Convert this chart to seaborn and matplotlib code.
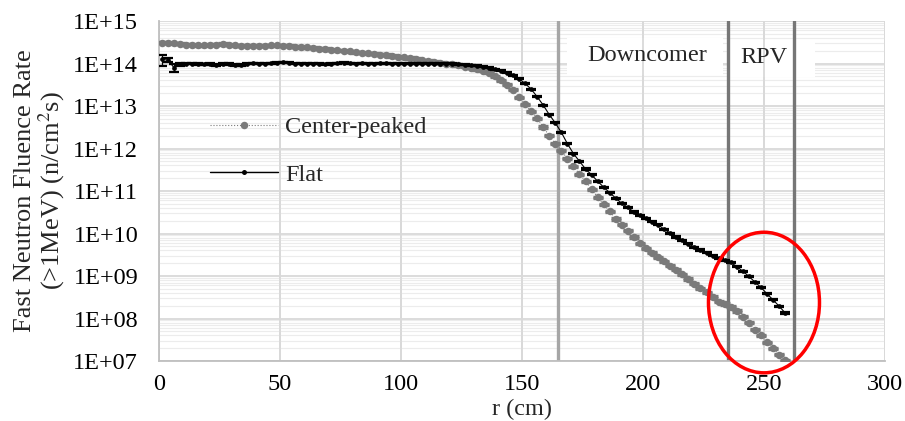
import numpy as np
import pandas as pd
import matplotlib
matplotlib.use("Agg")
import matplotlib.pyplot as plt
import seaborn as sns
from matplotlib.lines import Line2D
from matplotlib.patches import Ellipse, Rectangle
from matplotlib.ticker import FixedLocator, FuncFormatter, LogLocator, NullFormatter

# ---------------- data ----------------
r_cm = [1.25, 3.75, 6.25, 8.75, 11.25, 13.75, 16.25, 18.75, 21.25, 23.75,
        26.25, 28.75, 31.25, 33.75, 36.25, 38.75, 41.25, 43.75, 46.25, 48.75,
        51.25, 53.75, 56.25, 58.75, 61.25, 63.75, 66.25, 68.75, 71.25, 73.75,
        76.25, 78.75, 81.25, 83.75, 86.25, 88.75, 91.25, 93.75, 96.25, 98.75,
        101.25, 103.75, 106.25, 108.75, 111.25, 113.75, 116.25, 118.75, 121.25, 123.75,
        126.25, 128.75, 131.25, 133.75, 136.25, 138.75, 141.25, 143.75, 146.25, 148.75,
        151.25, 153.75, 156.25, 158.75, 161.25, 163.75, 166.25, 168.75, 171.25, 173.75,
        176.25, 178.75, 181.25, 183.75, 186.25, 188.75, 191.25, 193.75, 196.25, 198.75,
        201.25, 203.75, 206.25, 208.75, 211.25, 213.75, 216.25, 218.75, 221.25, 223.75,
        226.25, 228.75, 231.25, 233.75, 236.25, 238.75, 241.25, 243.75, 246.25, 248.75,
        251.25, 253.75, 256.25, 258.75]

center_peaked = [3.1e14, 3.1e14, 3.0e14, 2.9e14, 2.8e14, 2.75e14, 2.7e14, 2.7e14, 2.75e14, 2.8e14,
                 2.9e14, 2.8e14, 2.7e14, 2.65e14, 2.65e14, 2.65e14, 2.6e14, 2.65e14, 2.7e14, 2.7e14,
                 2.65e14, 2.6e14, 2.5e14, 2.45e14, 2.4e14, 2.35e14, 2.25e14, 2.2e14, 2.1e14, 2.05e14,
                 2.0e14, 1.95e14, 1.85e14, 1.8e14, 1.75e14, 1.7e14, 1.6e14, 1.6e14, 1.5e14, 1.45e14,
                 1.4e14, 1.35e14, 1.3e14, 1.2e14, 1.15e14, 1.1e14, 1.05e14, 1.0e14, 9.5e13, 9.1e13,
                 8.5e13, 7.9e13, 7.4e13, 6.8e13, 6.0e13, 5.0e13, 4.0e13, 3.2e13, 2.4e13, 1.6e13,
                 1.1e13, 7.6e12, 5.2e12, 3.2e12, 2.0e12, 1.3e12, 8.9e11, 5.8e11, 3.8e11, 2.5e11,
                 1.7e11, 1.1e11, 7.2e10, 4.9e10, 3.3e10, 2.2e10, 1.6e10, 1.15e10, 8.3e9, 5.9e9,
                 4.5e9, 3.5e9, 2.75e9, 2.2e9, 1.75e9, 1.4e9, 1.1e9, 8.5e8, 6.6e8, 5.2e8,
                 4.1e8, 3.2e8, 2.5e8, 2.2e8, 1.9e8, 1.5e8, 1.1e8, 7.9e7, 5.5e7, 4.0e7,
                 2.75e7, 2.0e7, 1.4e7, 1.05e7]

flat = [1.25e14, 1.2e14, 7.9e13, 9.5e13, 1.0e14, 1.0e14, 9.8e13, 9.5e13, 9.8e13, 9.3e13,
        9.8e13, 1.0e14, 9.3e13, 9.1e13, 1.0e14, 1.02e14, 1.0e14, 1.0e14, 1.02e14, 1.05e14,
        1.07e14, 1.05e14, 1.0e14, 9.8e13, 9.8e13, 1.0e14, 9.8e13, 9.5e13, 9.8e13, 1.02e14,
        1.05e14, 1.02e14, 1.0e14, 1.02e14, 1.0e14, 1.0e14, 1.02e14, 1.02e14, 1.0e14, 1.0e14,
        1.0e14, 1.0e14, 1.0e14, 1.0e14, 1.0e14, 1.0e14, 1.0e14, 9.8e13, 9.8e13, 9.5e13,
        9.3e13, 9.1e13, 8.9e13, 8.5e13, 7.9e13, 7.4e13, 6.8e13, 6.0e13, 5.25e13, 4.4e13,
        3.4e13, 2.5e13, 1.66e13, 1.05e13, 6.3e12, 4.0e12, 2.4e12, 1.3e12, 7.6e11, 5.0e11,
        3.3e11, 2.4e11, 1.7e11, 1.23e11, 9.1e10, 6.8e10, 5.1e10, 4.1e10, 3.2e10, 2.7e10,
        2.3e10, 1.9e10, 1.6e10, 1.26e10, 1.02e10, 8.3e9, 6.9e9, 5.75e9, 4.8e9, 4.1e9,
        3.55e9, 3.0e9, 2.6e9, 2.35e9, 2.1e9, 1.66e9, 1.3e9, 9.8e8, 7.2e8, 5.4e8,
        3.8e8, 2.75e8, 1.95e8, 1.35e8]

# relative statistical uncertainty (1 sigma)
flat_rel_err = [0.30, 0.10, 0.22, 0.06, 0.05, 0.05, 0.05, 0.05, 0.05, 0.06,
                0.05, 0.05, 0.06, 0.06] + [0.03] * 90
center_rel_err = [0.03] * 104

region_bounds = [165, 235, 262.5]
region_labels = ["Downcomer", "RPV"]
series_names = ["Center-peaked", "Flat"]
y_ticks = [1e7, 1e8, 1e9, 1e10, 1e11, 1e12, 1e13, 1e14, 1e15]
x_ticks = [0, 50, 100, 150, 200, 250, 300]

df = pd.DataFrame({"r": r_cm, "center": center_peaked, "flat": flat})

# ---------------- styling ----------------
sns.set_theme(style="white")
plt.rcParams["font.family"] = ["Liberation Serif", "DejaVu Serif"]
plt.rcParams["mathtext.fontset"] = "stix"
FS = 17.5
GRAY = "#7a7a7a"
GRID = "#d9d9d9"

fig = plt.figure(figsize=(9.05, 4.21), dpi=100)
ax = fig.add_axes([0.1757, 0.1425, 0.8022, 0.8076])

ax.set_yscale("log")
ax.set_xlim(0, 300)
ax.set_ylim(1e7, 1e15)

# grid
ax.yaxis.set_major_locator(FixedLocator(y_ticks))
ax.yaxis.set_minor_locator(LogLocator(base=10, subs=np.arange(2, 10), numticks=20))
ax.yaxis.set_minor_formatter(NullFormatter())
ax.xaxis.set_major_locator(FixedLocator(x_ticks))
ax.grid(True, which="major", color=GRID, lw=1.3, zorder=0)
ax.grid(True, which="minor", axis="y", color="#ececec", lw=0.8, zorder=0)
ax.set_axisbelow(True)
for s in ["top", "right"]:
    ax.spines[s].set_visible(False)
for s in ["left", "bottom"]:
    ax.spines[s].set_color("#bfbfbf")
    ax.spines[s].set_linewidth(1.3)

# white text boxes behind the region labels (hide horizontal grid lines only)
ax.add_patch(Rectangle((168.6, 10**13.73), 64.5, 10**14.6 - 10**13.73,
                       facecolor="white", edgecolor="none", zorder=1))
ax.add_patch(Rectangle((236.0, 10**13.68), 35.0, 10**14.55 - 10**13.68,
                       facecolor="white", edgecolor="none", zorder=1))
for xv in x_ticks[1:]:
    ax.axvline(xv, color=GRID, lw=1.3, zorder=1.1)

# region boundaries
ax.axvline(region_bounds[0], color="#a6a6a6", lw=2.4, zorder=2)
ax.axvline(region_bounds[1], color="#767676", lw=2.4, zorder=2)
ax.axvline(region_bounds[2], color="#767676", lw=2.4, zorder=2)

# series
sns.lineplot(data=df, x="r", y="center", ax=ax, color=GRAY, linestyle=":", lw=0.8,
             marker="o", markersize=5.4, markeredgewidth=0, legend=False, zorder=3)
ax.errorbar(df["r"], df["center"], yerr=df["center"] * np.array(center_rel_err),
            fmt="none", ecolor=GRAY, elinewidth=0.8, capsize=3.3, capthick=2.4, zorder=3)
sns.lineplot(data=df, x="r", y="flat", ax=ax, color="black", linestyle="-", lw=0.8,
             marker="o", markersize=3.4, markeredgewidth=0, legend=False, zorder=4)
ax.errorbar(df["r"], df["flat"], yerr=df["flat"] * np.array(flat_rel_err),
            fmt="none", ecolor="black", elinewidth=0.9, capsize=3.6, capthick=1.6, zorder=4)

# ticks & labels
ax.yaxis.set_major_formatter(FuncFormatter(lambda v, p: "1E+%02d" % int(round(np.log10(v)))))
ax.tick_params(axis="both", which="both", length=0, labelsize=FS, colors="black")
ax.tick_params(axis="y", pad=15)
ax.tick_params(axis="x", pad=9)
ax.set_xlabel("r (cm)", fontsize=FS, labelpad=3)
ax.set_ylabel("Fast Neutron Fluence Rate\n(>1MeV) (n/cm$^{2}$s)", fontsize=19,
              multialignment="center", linespacing=1.0)
ax.yaxis.set_label_coords(-0.127, 0.5)

# region labels
ax.text(176.9, 10**14.2, region_labels[0], fontsize=FS, ha="left", va="center", zorder=5)
ax.text(240.3, 10**14.13, region_labels[1], fontsize=FS, ha="left", va="center", zorder=5)

# highlight ellipse
ell = Ellipse((0.8333, 0.172), 0.1529, 0.4135, transform=ax.transAxes,
              fill=False, edgecolor="#ff0000", lw=2.5, clip_on=False, zorder=6)
ax.add_patch(ell)

# legend
handles = [Line2D([], [], color=GRAY, linestyle=":", lw=0.8, marker="o", markersize=5.4,
                  markeredgewidth=0),
           Line2D([], [], color="black", linestyle="-", lw=1.0, marker="o", markersize=3.6,
                  markeredgewidth=0)]
ax.legend(handles, series_names, loc="center left", bbox_to_anchor=(0.070, 0.6175),
          frameon=False, fontsize=FS, handlelength=2.8, handletextpad=0.3,
          labelspacing=1.05, borderpad=0, borderaxespad=0)

fig.savefig("out.png", dpi=100)
